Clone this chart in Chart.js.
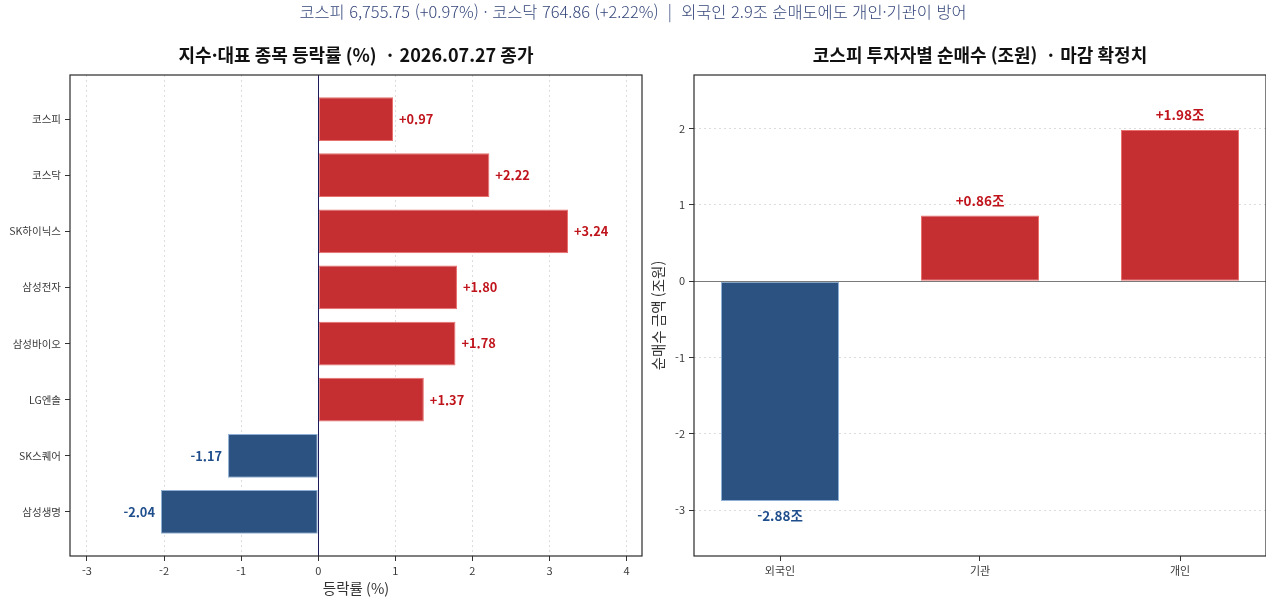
<!DOCTYPE html>
<html lang="ko">
<head>
<meta charset="utf-8">
<script src="https://cdn.jsdelivr.net/npm/chart.js@4/dist/chart.umd.min.js"></script>
<style>
  html, body { margin:0; padding:0; width:1266px; height:598px; overflow:hidden; background:#fff; }
  #sup { position:absolute; left:0; top:0px; width:1266px; text-align:center; font-family:"Noto Sans CJK KR","Noto Sans",sans-serif; font-size:16.4px; font-weight:300; line-height:22px; color:#34467a; z-index:5; }
  #lw { position:absolute; left:0; top:0; width:650px; height:598px; }
  #rw { position:absolute; left:650px; top:0; width:626px; height:598px; }
</style>
</head>
<body>
<div id="sup">코스피 6,755.75 (+0.97%) · 코스닥 764.86 (+2.22%) &nbsp;|&nbsp; 외국인 2.9조 순매도에도 개인·기관이 방어</div>
<div id="lw"><canvas id="left"></canvas></div>
<div id="rw"><canvas id="right"></canvas></div>
<script>
// ---- data ----
const stockNames = ["코스피","코스닥","SK하이닉스","삼성전자","삼성바이오","LG엔솔","SK스퀘어","삼성생명"];
const stockChanges = [0.97, 2.22, 3.24, 1.80, 1.78, 1.37, -1.17, -2.04];
const investorNames = ["외국인","기관","개인"];
const investorNet = [-2.88, 0.86, 1.98];
const leftTitle = "지수·대표 종목 등락률 (%)  · 2026.07.27 종가";
const rightTitle = "코스피 투자자별 순매수 (조원)  · 마감 확정치";

const FONT = '"Noto Sans CJK KR","Noto Sans",sans-serif';
const RED = '#c62f32', RED_EDGE = '#e8706f';
const BLUE = '#2c5282', BLUE_EDGE = '#8fb0d4';
const RED_TXT = '#c0141c', BLUE_TXT = '#1f4e8c';
const GRID = '#dcdcdc';

function fmt(v, suffix) { return (v > 0 ? '+' : '') + v.toFixed(2) + (suffix || ''); }

const framePlugin = {
  id: 'frame',
  afterDatasetsDraw(chart, args, opts) {
    const {ctx, chartArea: a} = chart;
    ctx.save();
    const sc = chart.scales[opts.zeroAxis];
    const p = sc.getPixelForValue(0);
    ctx.strokeStyle = opts.zeroColor; ctx.lineWidth = 1;
    ctx.beginPath();
    if (opts.zeroAxis === 'x') { ctx.moveTo(Math.round(p)+0.5, a.top); ctx.lineTo(Math.round(p)+0.5, a.bottom); }
    else { ctx.moveTo(a.left, Math.round(p)+0.5); ctx.lineTo(a.right, Math.round(p)+0.5); }
    ctx.stroke();
    ctx.strokeStyle = '#2a2a2a'; ctx.lineWidth = 1.2;
    ctx.strokeRect(a.left, a.top, a.right - a.left, a.bottom - a.top);
    ctx.fillStyle = '#111';
    ctx.font = 'bold 18px ' + FONT;
    ctx.textAlign = 'center'; ctx.textBaseline = 'middle';
    ctx.fillText(opts.title, (a.left + a.right) / 2, 55);
    const meta = chart.getDatasetMeta(0);
    const vals = chart.data.datasets[0].values;
    ctx.font = 'bold ' + opts.valueSize + 'px ' + FONT;
    meta.data.forEach((el, i) => {
      const v = vals[i];
      ctx.fillStyle = v >= 0 ? RED_TXT : BLUE_TXT;
      if (opts.zeroAxis === 'x') {
        ctx.textBaseline = 'middle';
        if (v >= 0) { ctx.textAlign = 'left'; ctx.fillText(fmt(v), el.x + 6, el.y); }
        else { ctx.textAlign = 'right'; ctx.fillText(fmt(v), el.x - 6, el.y); }
      } else {
        ctx.textAlign = 'center';
        if (v >= 0) { ctx.textBaseline = 'bottom'; ctx.fillText(fmt(v, '조'), el.x, el.y - 8); }
        else { ctx.textBaseline = 'top'; ctx.fillText(fmt(v, '조'), el.x, el.y + 8); }
      }
    });
    ctx.restore();
  }
};

Chart.defaults.font.family = FONT;
Chart.defaults.color = '#333';

// ---- left chart ----
new Chart(document.getElementById('left'), {
  type: 'bar',
  data: {
    datasets: [{
      values: stockChanges,
      data: stockChanges.map((v, i) => ({x: v, y: i})),
      backgroundColor: stockChanges.map(v => v >= 0 ? RED : BLUE),
      borderColor: stockChanges.map(v => v >= 0 ? RED_EDGE : BLUE_EDGE),
      borderWidth: 1,
      borderSkipped: false,
      barPercentage: 0.78,
      categoryPercentage: 1
    }]
  },
  options: {
    indexAxis: 'y',
    responsive: true, maintainAspectRatio: false, animation: false,
    layout: { padding: { top: 75, right: 8, left: 0, bottom: 0 } },
    plugins: {
      legend: { display: false }, tooltip: { enabled: false },
      frame: { zeroAxis: 'x', zeroColor: '#1c1c5a', title: leftTitle, valueSize: 12.8 }
    },
    scales: {
      x: {
        type: 'linear', min: -3.22, max: 4.2,
        afterFit: s => { s.height = 42; },
        ticks: { stepSize: 1, includeBounds: false, font: { size: 11 }, color: '#3a3a3a', padding: 3 },
        grid: { color: GRID, lineWidth: 1, drawTicks: true, tickLength: 5, tickColor: '#333' },
        border: { display: false, dash: [2, 3] },
        title: { display: true, text: '등락률 (%)', font: { size: 14.5 }, color: '#333', padding: { top: 0, bottom: 1 } }
      },
      y: {
        type: 'linear', reverse: true, min: -0.786, max: 7.786, offset: false,
        afterFit: s => { s.width = 70; },
        afterBuildTicks: s => { s.ticks = stockNames.map((n, i) => ({ value: i })); },
        ticks: { callback: v => stockNames[v], font: { size: 10.5 }, color: '#3a3a3a', padding: 4 },
        grid: { offset: false, drawOnChartArea: false, drawTicks: true, tickLength: 5, tickColor: '#333' },
        border: { display: false }
      }
    }
  },
  plugins: [framePlugin]
});

// ---- right chart ----
new Chart(document.getElementById('right'), {
  type: 'bar',
  data: {
    datasets: [{
      values: investorNet,
      data: investorNet.map((v, i) => ({x: i, y: v})),
      backgroundColor: investorNet.map(v => v >= 0 ? RED : BLUE),
      borderColor: investorNet.map(v => v >= 0 ? RED_EDGE : BLUE_EDGE),
      borderWidth: 1,
      borderSkipped: false,
      barPercentage: 0.59,
      categoryPercentage: 1
    }]
  },
  options: {
    responsive: true, maintainAspectRatio: false, animation: false,
    layout: { padding: { top: 75, right: 10, left: 0, bottom: 0 } },
    plugins: {
      legend: { display: false }, tooltip: { enabled: false },
      frame: { zeroAxis: 'y', zeroColor: '#7a7a7a', title: rightTitle, valueSize: 13.5 }
    },
    scales: {
      x: {
        type: 'linear', min: -0.43, max: 2.43, offset: false,
        afterFit: s => { s.height = 42; },
        afterBuildTicks: s => { s.ticks = investorNames.map((n, i) => ({ value: i })); },
        ticks: { callback: v => investorNames[v], font: { size: 11 }, color: '#3a3a3a', padding: 3 },
        grid: { offset: false, drawOnChartArea: false, drawTicks: true, tickLength: 5, tickColor: '#333' },
        border: { display: false }
      },
      y: {
        type: 'linear', min: -3.6, max: 2.7,
        afterFit: s => { s.width = 44; },
        ticks: { stepSize: 1, includeBounds: false, font: { size: 11 }, color: '#3a3a3a', padding: 4 },
        grid: { color: GRID, lineWidth: 1, drawTicks: true, tickLength: 5, tickColor: '#333' },
        border: { display: false, dash: [2, 3] },
        title: { display: true, text: '순매수 금액 (조원)', font: { size: 14.5 }, color: '#333', padding: { top: 0, bottom: 0 } }
      }
    }
  },
  plugins: [framePlugin]
});
</script>
</body>
</html>
